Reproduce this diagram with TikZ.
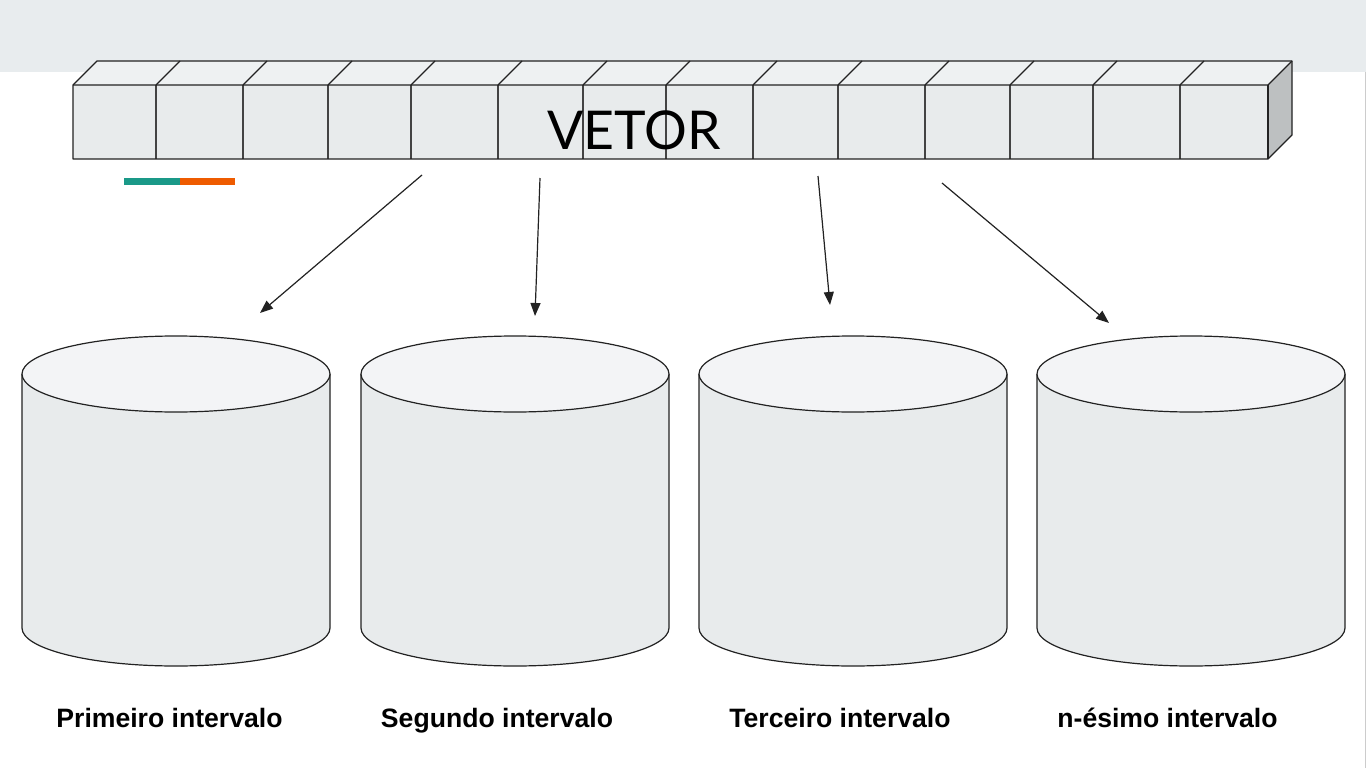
\documentclass[tikz,border=0pt]{standalone}
\usepackage{fontspec}
\setmainfont{Liberation Sans}
\newfontfamily\latofont{Lato}
\usetikzlibrary{arrows.meta}
\definecolor{band}{HTML}{E8ECEE}
\definecolor{front}{HTML}{E8EBEC}
\definecolor{topf}{HTML}{EEF1F2}
\definecolor{side}{HTML}{BDC0C1}
\definecolor{cylbody}{HTML}{E8EBEC}
\definecolor{cyltop}{HTML}{F3F4F6}
\definecolor{ink}{HTML}{222222}
\definecolor{teal}{HTML}{1A9988}
\definecolor{orng}{HTML}{EE5B00}
\tikzset{
  edge/.style={draw=ink, line width=1.3pt, line join=round},
  thin edge/.style={draw=ink, line width=1.1pt},
  arrowline/.style={draw=ink, line width=1.2pt, -{Triangle[length=13pt,width=10pt]}},
  caption/.style={font=\bfseries\fontsize{26.6}{30}\selectfont, text=black, inner sep=0pt, anchor=base},
  bigtitle/.style={font=\latofont\fontsize{53.5}{60}\selectfont, text=black, inner sep=0pt, anchor=base},
}
\begin{document}
\begin{tikzpicture}[x=1pt,y=-1pt]
\useasboundingbox (0,0) rectangle (1366,768);
\fill[white] (0,0) rectangle (1366,768);
\fill[band] (0,0) rectangle (1366,72);
\draw[line width=1pt, draw=black!20] (1365.3,72) -- (1365.3,768);

% vector
\fill[topf] (73,85) -- (97,61) -- (1292,61) -- (1268,85) -- cycle;
\fill[side] (1268,85) -- (1292,61) -- (1292,135) -- (1268,159) -- cycle;
\node[name=vec, fill=front, minimum width=1195pt, minimum height=74pt, inner sep=0pt, outer sep=0pt] at (670.5,122) {};
\foreach \x in {156,243,328,411,498,583,666,753,838,925,1010,1093,1180} {
  \draw[thin edge, draw=ink!85] (\x,85) -- (\x,159);
  \draw[thin edge] (\x,85) -- ({\x+24},61);
}
\draw[edge] (73,85) -- (97,61) -- (1292,61) -- (1292,135) -- (1268,159) -- (73,159) -- cycle;
\draw[edge] (73,85) -- (1268,85) -- (1292,61);
\draw[edge] (1268,85) -- (1268,159);
\node[bigtitle] (title) at (634,149.5) {VETOR};

% colored bar
\draw[teal, line width=7pt] (124,181) -- (180,181);
\draw[orng, line width=7pt] (180,181) -- (235,181);

% cylinders
\foreach \x/\n in {22/1,361/2,699/3,1037/4} {
  \fill[cylbody] (\x,374) -- (\x,628) arc[start angle=180,end angle=360,x radius=154pt,y radius=38pt] -- ({\x+308},374) -- cycle;
  \draw[ink, line width=1.2pt] (\x,374) -- (\x,628) arc[start angle=180,end angle=360,x radius=154pt,y radius=38pt] -- ({\x+308},374);
  \draw[ink, line width=1.2pt, fill=cyltop] ({\x+154},374) ellipse[x radius=154pt, y radius=38pt];
  \coordinate (cyl\n) at ({\x+154},500);
}

% arrow endpoints
\coordinate (s1) at (422,175); \coordinate (e1) at (260,313);
\coordinate (s2) at (540,178); \coordinate (e2) at (535,316);
\coordinate (s3) at (818,176); \coordinate (e3) at (830,305);
\coordinate (s4) at (942,183); \coordinate (e4) at (1109,323);
\draw[arrowline] (s1) -- (e1);
\draw[arrowline] (s2) -- (e2);
\draw[arrowline] (s3) -- (e3);
\draw[arrowline] (s4) -- (e4);

% captions
\node[caption] (l1) at (169.5,727.5) {Primeiro intervalo};
\node[caption] (l2) at (497,727.5) {Segundo intervalo};
\node[caption] (l3) at (840,727.5) {Terceiro intervalo};
\node[caption] (l4) at (1167.5,727.5) {n-ésimo intervalo};
\end{tikzpicture}
\end{document}
